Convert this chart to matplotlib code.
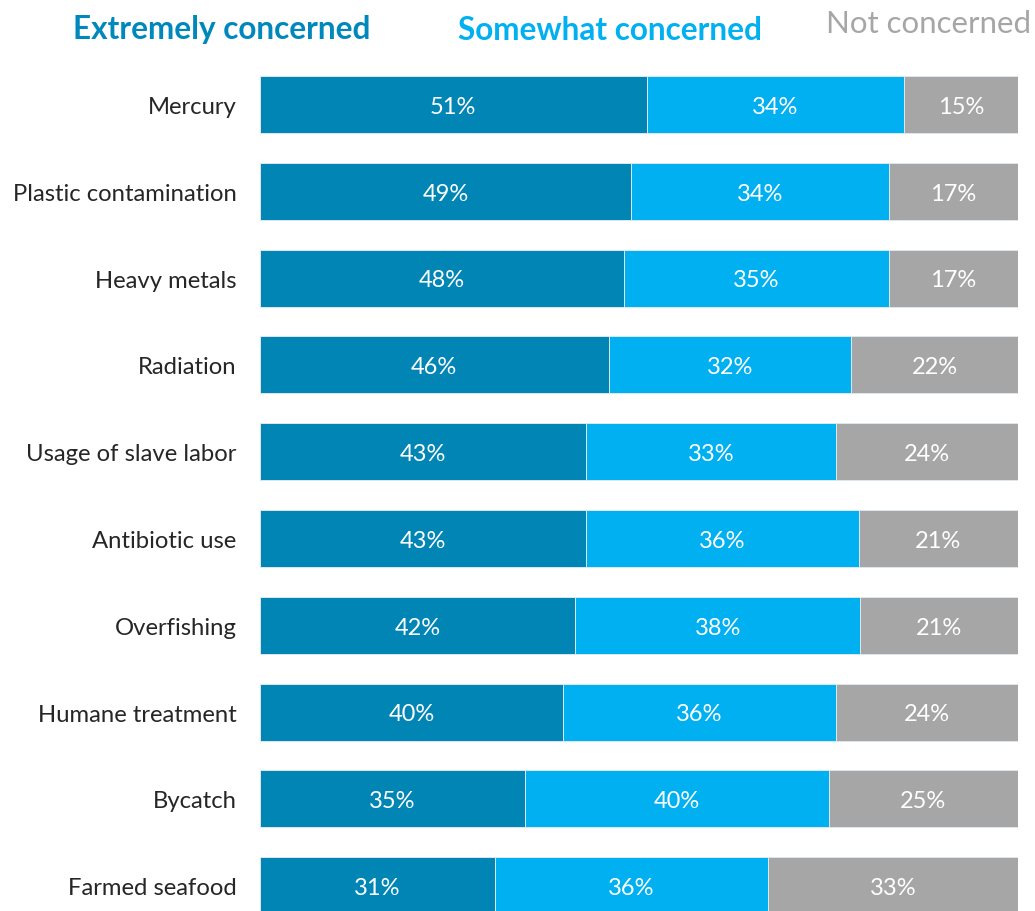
import matplotlib
matplotlib.use("Agg")
import matplotlib.pyplot as plt
import numpy as np

plt.rcParams['font.family'] = ['Lato', 'DejaVu Sans']

categories = ["Mercury", "Plastic contamination", "Heavy metals", "Radiation",
              "Usage of slave labor", "Antibiotic use", "Overfishing",
              "Humane treatment", "Bycatch", "Farmed seafood"]
extremely = [51, 49, 48, 46, 43, 43, 42, 40, 35, 31]
somewhat = [34, 34, 35, 32, 33, 36, 38, 36, 40, 36]
not_concerned = [15, 17, 17, 22, 24, 21, 21, 24, 25, 33]

series_names = ["Extremely concerned", "Somewhat concerned", "Not concerned"]
colors = ["#0085B4", "#00B0F0", "#A6A6A6"]

W, H = 1035, 912
fig = plt.figure(figsize=(W / 100, H / 100), dpi=100)
ax = fig.add_axes([260 / W, 0, 758 / W, 1])

data = np.array([extremely, somewhat, not_concerned], dtype=float)
shares = data / data.sum(axis=0) * 100  # 100% stacked
y = np.arange(len(categories))
left = np.zeros(len(categories))
for k in range(3):
    ax.barh(y, shares[k], left=left, height=0.655, color=colors[k],
            edgecolor="#DDE8EE", linewidth=0.7)
    for i in range(len(categories)):
        ax.text(left[i] + shares[k][i] / 2, y[i] + 0.02, f"{int(data[k][i])}%",
                ha="center", va="center", color="white", fontsize=17)
    left += shares[k]

ax.set_xlim(0, 100)
ax.set_ylim((H - 105.5) / 86.8, -105.5 / 86.8)
ax.set_yticks(y)
ax.set_yticklabels(categories, fontsize=17.2, color="#262626")
ax.tick_params(axis="y", length=0, pad=17)
ax.set_xticks([])
for s in ax.spines.values():
    s.set_visible(False)

fig.text(222 / W, 1 - 30 / H, series_names[0], ha="center", va="center",
         fontsize=22.7, fontweight="bold", color="#0088BC")
fig.text(610 / W, 1 - 30 / H, series_names[1], ha="center", va="center",
         fontsize=22.7, fontweight="bold", color="#00B0F0")
fig.text(826 / W, 1 - 24 / H, series_names[2], ha="left", va="center",
         fontsize=22.5, color="#A6A6A6")

fig.savefig("out.png", dpi=100)
